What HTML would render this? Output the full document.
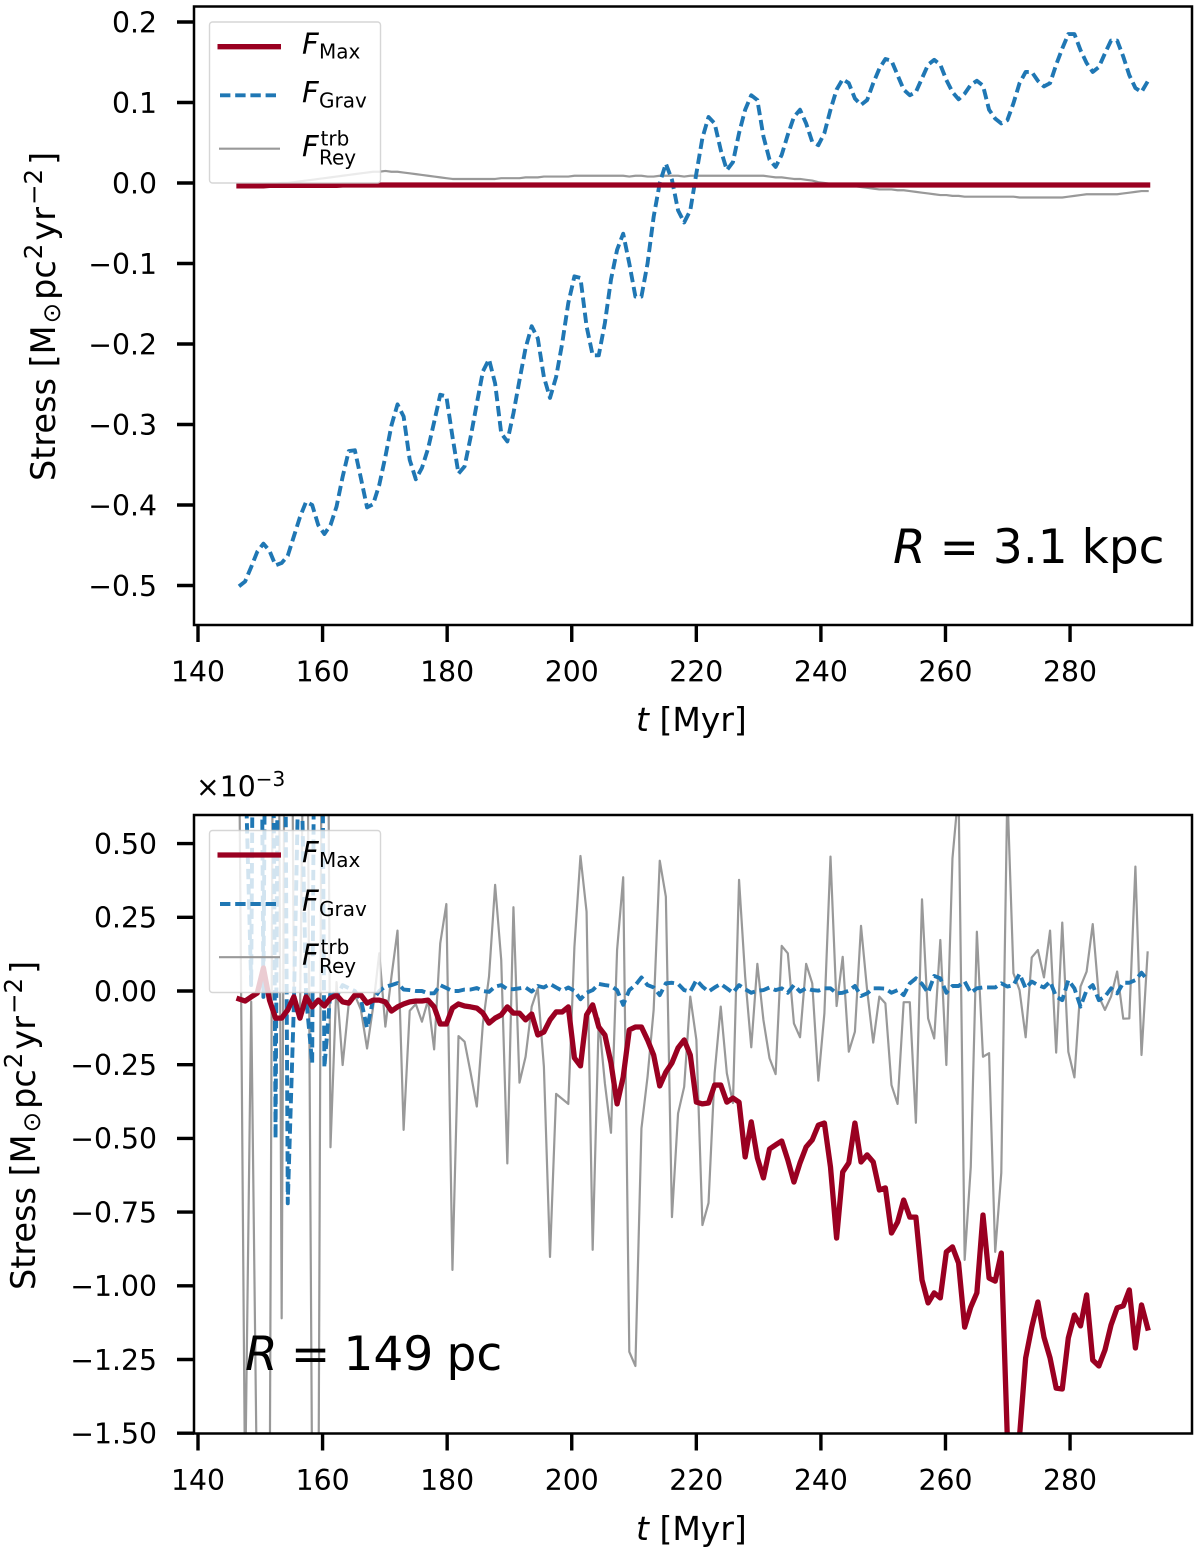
<!DOCTYPE html>
<html lang="en">
<head>
<meta charset="utf-8">
<title>Stress versus time at two radii</title>
<style>
html,body{margin:0;padding:0;background:#fff;width:1200px;height:1554px;overflow:hidden;}
svg{display:block;overflow:hidden;font-family:"DejaVu Sans","Liberation Sans",sans-serif;fill:#000;}
.tick-label{font-size:28.3px;}
.axis-label{font-size:33.5px;}
.x-label{font-size:33px;}
.legend-f{font-size:29px;font-style:italic;}
.legend-sub{font-size:20px;}
.radius{font-size:47px;word-spacing:-1.7px;}
.radius-top{word-spacing:-1px;}
</style>
</head>
<body>
<svg id="figure" xmlns="http://www.w3.org/2000/svg" width="1200" height="1554" viewBox="0 0 1200 1554">
  <defs>
    <clipPath id="clip-top"><rect x="194" y="6.5" width="998" height="618.5"/></clipPath>
    <clipPath id="clip-bottom"><rect x="194" y="815" width="998" height="618.5"/></clipPath>
  </defs>
  <rect x="0" y="0" width="1200" height="1554" fill="#fff"/>

  <g id="top-lines" clip-path="url(#clip-top)"></g>
  <g id="bottom-lines" clip-path="url(#clip-bottom)"></g>

  <g>
    <rect x="209.5" y="22" width="171" height="161" rx="3" fill="#fff" fill-opacity="0.8" stroke="#cccccc" stroke-opacity="0.8" stroke-width="1.4"/>
    <line x1="217.5" x2="281" y1="46.7" y2="46.7" stroke="#9a0021" stroke-width="5.3"/>
    <text x="302" y="54"><tspan class="legend-f">F</tspan><tspan class="legend-sub" x="319" y="58.5">Max</tspan></text>
    <line x1="220" x2="279" y1="95.3" y2="95.3" stroke="#1f77b4" stroke-width="3.9" stroke-dasharray="10.4 4.8"/>
    <text x="302" y="102.7"><tspan class="legend-f">F</tspan><tspan class="legend-sub" x="319" y="107.5">Grav</tspan></text>
    <line x1="219" x2="280" y1="148.7" y2="148.7" stroke="#999999" stroke-width="2.2"/>
    <text x="302" y="156.7"><tspan class="legend-f">F</tspan><tspan class="legend-sub" x="320.5" y="145.7">trb</tspan><tspan class="legend-sub" x="319" y="164.3">Rey</tspan></text>
  </g>

  <g>
    <rect x="209.5" y="830.5" width="171" height="162" rx="3" fill="#fff" fill-opacity="0.8" stroke="#cccccc" stroke-opacity="0.8" stroke-width="1.4"/>
    <line x1="217.5" x2="281" y1="855" y2="855" stroke="#9a0021" stroke-width="5.3"/>
    <text x="302" y="862.5"><tspan class="legend-f">F</tspan><tspan class="legend-sub" x="319" y="867">Max</tspan></text>
    <line x1="220" x2="279" y1="904" y2="904" stroke="#1f77b4" stroke-width="3.9" stroke-dasharray="10.4 4.8"/>
    <text x="302" y="911.2"><tspan class="legend-f">F</tspan><tspan class="legend-sub" x="319" y="916">Grav</tspan></text>
    <line x1="219" x2="280" y1="957.2" y2="957.2" stroke="#999999" stroke-width="2.2"/>
    <text x="302" y="965.2"><tspan class="legend-f">F</tspan><tspan class="legend-sub" x="320.5" y="954.2">trb</tspan><tspan class="legend-sub" x="319" y="972.8">Rey</tspan></text>
  </g>

  <rect x="194" y="6.5" width="998" height="618.5" fill="none" stroke="#000" stroke-width="2.5"/>
  <rect x="194" y="815" width="998" height="618.5" fill="none" stroke="#000" stroke-width="2.5"/>
  <g id="top-axes"></g>
  <g id="bottom-axes"></g>

  <text class="x-label" x="636" y="731"><tspan font-style="italic">t</tspan> [Myr]</text>
  <text class="x-label" x="636" y="1540"><tspan font-style="italic">t</tspan> [Myr]</text>

  <text class="axis-label" transform="translate(55,481) rotate(-90)">Stress [M<tspan font-size="24.5" dx="2" dy="5">⊙</tspan><tspan dx="3" dy="-5">pc</tspan><tspan font-size="24.5" dx="1" dy="-13">2</tspan><tspan dx="3" dy="13">yr</tspan><tspan font-size="24.5" dx="2" dy="-13">−2</tspan><tspan dx="4" dy="13">]</tspan></text>
  <text class="axis-label" transform="translate(35,1290) rotate(-90)">Stress [M<tspan font-size="24.5" dx="2" dy="5">⊙</tspan><tspan dx="3" dy="-5">pc</tspan><tspan font-size="24.5" dx="1" dy="-13">2</tspan><tspan dx="3" dy="13">yr</tspan><tspan font-size="24.5" dx="2" dy="-13">−2</tspan><tspan dx="4" dy="13">]</tspan></text>

  <text class="tick-label" x="196" y="796.5">×10<tspan font-size="20" dy="-10.5">−3</tspan></text>

  <text class="radius radius-top" x="893" y="563"><tspan font-style="italic">R</tspan> = 3.1 kpc</text>
  <text class="radius" x="245" y="1370"><tspan font-style="italic">R</tspan> = 149 pc</text>
</svg>

<script>
const timeMyr = [
146.58,147.56,148.54,149.52,150.50,151.48,152.45,153.43,154.41,155.39,
156.37,157.35,158.33,159.31,160.29,161.27,162.24,163.22,164.20,165.18,
166.16,167.14,168.12,169.10,170.08,171.06,172.03,173.01,173.99,174.97,
175.95,176.93,177.91,178.89,179.87,180.85,181.82,182.80,183.78,184.76,
185.74,186.72,187.70,188.68,189.66,190.64,191.61,192.59,193.57,194.55,
195.53,196.51,197.49,198.47,199.45,200.43,201.40,202.38,203.36,204.34,
205.32,206.30,207.28,208.26,209.24,210.22,211.19,212.17,213.15,214.13,
215.11,216.09,217.07,218.05,219.03,220.01,220.98,221.96,222.94,223.92,
224.90,225.88,226.86,227.84,228.82,229.80,230.77,231.75,232.73,233.71,
234.69,235.67,236.65,237.63,238.61,239.59,240.56,241.54,242.52,243.50,
244.48,245.46,246.44,247.42,248.40,249.38,250.35,251.33,252.31,253.29,
254.27,255.25,256.23,257.21,258.19,259.17,260.14,261.12,262.10,263.08,
264.06,265.04,266.02,267.00,267.98,268.96,269.93,270.91,271.89,272.87,
273.85,274.83,275.81,276.79,277.77,278.75,279.72,280.70,281.68,282.66,
283.64,284.62,285.60,286.58,287.56,288.54,289.51,290.49,291.47,292.45];

const topMax = [
-.0035,-.0035,-.0035,-.0035,-.0035,-.003,-.003,-.003,-.003,-.003,
-.003,-.003,-.003,-.003,-.003,-.003,-.003,-.0025,-.0025,-.0025,
-.0025,-.0025,-.0025,-.0025,-.0025,-.0025,-.0025,-.0025,-.0025,-.0025,
-.0025,-.0025,-.0025,-.0025,-.0025,-.0025,-.0025,-.0025,-.0025,-.0025,
-.0025,-.0025,-.0025,-.0025,-.0025,-.0025,-.0025,-.0025,-.0025,-.0025,
-.0025,-.0025,-.0025,-.0025,-.0025,-.0025,-.0025,-.0025,-.0025,-.0025,
-.0025,-.0025,-.0025,-.0025,-.0025,-.0025,-.0025,-.0025,-.0025,-.0025,
-.0025,-.0025,-.0025,-.0025,-.0025,-.0025,-.0025,-.0025,-.0025,-.0025,
-.0025,-.0025,-.0025,-.0025,-.0025,-.0025,-.0025,-.0025,-.0025,-.0025,
-.0025,-.0025,-.0025,-.0025,-.0025,-.0025,-.0025,-.0025,-.0025,-.0025,
-.0025,-.0025,-.0025,-.0025,-.0025,-.0025,-.0025,-.0025,-.0025,-.0025,
-.0025,-.0025,-.0025,-.0025,-.0025,-.0025,-.0025,-.0025,-.0025,-.0025,
-.0025,-.0025,-.0025,-.0025,-.0025,-.0025,-.0025,-.0025,-.0025,-.0025,
-.0025,-.0025,-.0025,-.0025,-.0025,-.0025,-.0025,-.0025,-.0025,-.0025,
-.0025,-.0025,-.0025,-.0025,-.0025,-.0025,-.0025,-.0025,-.0025,-.0025];

const topGrav = [
-.501,-.495,-.477,-.458,-.448,-.457,-.475,-.472,-.463,-.439,
-.415,-.396,-.400,-.425,-.436,-.425,-.402,-.365,-.333,-.332,
-.367,-.403,-.399,-.375,-.340,-.301,-.275,-.290,-.344,-.368,
-.354,-.330,-.297,-.263,-.265,-.315,-.361,-.352,-.315,-.274,
-.234,-.219,-.249,-.311,-.321,-.286,-.245,-.205,-.178,-.193,
-.241,-.267,-.241,-.199,-.149,-.116,-.118,-.178,-.214,-.214,
-.174,-.120,-.083,-.063,-.100,-.141,-.141,-.100,-.042,0,
.024,.004,-.034,-.049,-.034,.012,.056,.082,.074,.041,
.016,.026,.062,.091,.109,.103,.058,.029,.020,.035,
.060,.082,.091,.074,.051,.047,.062,.091,.116,.129,
.124,.105,.097,.103,.124,.142,.154,.152,.134,.116,
.109,.113,.130,.147,.153,.147,.128,.113,.104,.111,
.122,.127,.121,.091,.080,.074,.078,.099,.124,.138,
.138,.127,.120,.124,.147,.167,.185,.185,.165,.149,
.138,.144,.161,.177,.177,.157,.134,.118,.113,.126];

const topRey = [
-.002,-.002,-.002,-.002,-.001,-.001,-.001,0,0,.001,
.002,.003,.004,.005,.006,.007,.008,.009,.010,.011,
.012,.013,.014,.014,.015,.014,.014,.013,.012,.011,
.010,.009,.008,.007,.006,.005,.005,.005,.005,.005,
.005,.005,.005,.006,.006,.006,.006,.007,.007,.007,
.008,.008,.008,.008,.008,.009,.009,.009,.009,.009,
.009,.009,.009,.009,.008,.009,.009,.008,.008,.009,
.009,.009,.009,.008,.009,.009,.009,.009,.009,.009,
.009,.009,.009,.009,.009,.009,.009,.008,.007,.007,
.006,.005,.005,.004,.003,.001,0,-.001,-.001,-.002,
-.002,-.004,-.005,-.006,-.007,-.008,-.008,-.008,-.009,-.009,
-.010,-.011,-.012,-.013,-.014,-.015,-.015,-.016,-.016,-.017,
-.017,-.017,-.017,-.017,-.017,-.017,-.017,-.017,-.018,-.018,
-.018,-.018,-.018,-.018,-.018,-.018,-.017,-.016,-.015,-.014,
-.014,-.014,-.014,-.014,-.014,-.013,-.012,-.011,-.010,-.010];

const bottomMax = [
-.027,-.034,-.020,-.007,.078,-.031,-.092,-.092,-.064,-.020,
-.092,-.020,-.054,-.031,-.051,-.024,-.014,-.037,-.041,-.014,
-.014,-.041,-.031,-.031,-.037,-.068,-.054,-.044,-.037,-.034,
-.034,-.031,-.054,-.112,-.112,-.058,-.044,-.051,-.054,-.058,
-.075,-.109,-.092,-.081,-.054,-.075,-.075,-.098,-.078,-.149,
-.139,-.098,-.071,-.071,-.054,-.227,-.254,-.081,-.047,-.122,
-.149,-.244,-.383,-.292,-.132,-.122,-.122,-.166,-.217,-.322,
-.275,-.244,-.193,-.166,-.217,-.377,-.383,-.380,-.319,-.319,
-.377,-.363,-.377,-.563,-.444,-.566,-.634,-.536,-.522,-.509,
-.573,-.648,-.583,-.529,-.505,-.455,-.448,-.597,-.838,-.614,
-.583,-.448,-.580,-.556,-.580,-.675,-.668,-.821,-.784,-.709,
-.767,-.767,-.980,-1.058,-1.024,-1.041,-.885,-.868,-.923,-1.140,
-1.072,-1.024,-.760,-.974,-.984,-.889,-1.516,-1.727,-1.510,-1.245,
-1.140,-1.055,-1.174,-1.245,-1.347,-1.350,-1.177,-1.099,-1.136,-1.031,
-1.252,-1.272,-1.218,-1.133,-1.075,-1.068,-1.014,-1.211,-1.065,-1.143];

const bottomGrav = [
1.6,.8,.02,3.3,-.02,3.3,-.5,3.3,-.72,-.05,
1.0,-.02,-.245,3.3,-.26,0,-.02,.02,.01,0,
-.03,-.125,-.03,0,.015,.02,.027,.005,.003,0,
0,-.008,-.008,.02,.01,0,0,.005,.005,.01,
0,-.003,.015,.02,.006,.006,.009,.012,-.002,.017,
.012,.024,.012,.001,.012,0,-.028,-.006,.003,.024,
.02,.017,.003,-.047,.003,.02,.046,.02,.012,-.014,
.026,.028,.024,.003,-.002,.037,.015,-.002,.012,.024,
.009,-.006,.02,.006,-.006,.001,.003,.012,.003,.009,
-.006,.02,-.002,.009,.003,.001,.009,.009,-.008,-.006,
.001,.017,-.017,-.008,.009,.009,.008,-.006,.003,-.014,
.026,.043,.024,-.006,.051,.043,-.006,.017,.017,.032,
-.006,.009,.012,.012,.012,.026,.015,.02,.058,.009,
.032,.02,.012,.032,-.019,-.031,.037,.009,-.053,.003,
.02,-.031,-.019,.009,-.008,.028,.028,.037,.062,.037];

const bottomRey = [
.9,-1.7,-.036,-1.8,-1.9,-1.9,3.3,-1.11,3.3,0,
-.09,1.7,-1.7,-1.9,3.3,-.53,.03,-.251,-.042,-.014,
-.064,-.195,-.053,.128,-.121,.049,.205,-.471,-.067,-.044,
-.104,-.031,-.198,.162,.295,-.946,-.153,-.172,-.279,-.392,
-.11,.049,.36,.105,-.585,.284,-.311,-.223,-.053,.009,
-.257,-.902,-.349,-.366,-.383,.15,.458,.269,-.878,-.093,
-.313,-.481,.139,.386,-1.224,-1.272,-.466,-.291,-.064,.442,
.32,-.767,-.415,-.325,-.019,-.166,-.794,-.719,-.279,-.053,
-.279,-.38,.377,.049,-.191,.092,-.098,-.228,-.282,.153,
.128,-.11,-.157,.092,.026,-.304,-.076,.456,-.051,.116,
-.206,-.138,.221,.003,-.175,-.019,-.042,-.319,-.383,-.038,
-.038,-.447,.311,-.093,-.161,.173,-.251,.45,.68,-.912,
-.597,.201,-.223,-.211,-.885,-.617,.68,.06,.003,-.157,
.114,.139,.046,.205,-.209,.232,-.206,-.293,.015,.066,
.227,-.019,-.064,-.019,.066,-.094,-.093,.422,-.217,.131];

const xTickValues = [140,160,180,200,220,240,260,280];
const xTickLabels = ["140","160","180","200","220","240","260","280"];
const topYTickValues = [0.2,0.1,0,-0.1,-0.2,-0.3,-0.4,-0.5];
const topYTickLabels = ["0.2","0.1","0.0","−0.1","−0.2","−0.3","−0.4","−0.5"];
const bottomYTickValues = [0.5,0.25,0,-0.25,-0.5,-0.75,-1,-1.25,-1.5];
const bottomYTickLabels = ["0.50","0.25","0.00","−0.25","−0.50","−0.75","−1.00","−1.25","−1.50"];

const NS = "http://www.w3.org/2000/svg";
function xScale(t){ return 198 + 6.229 * (t - 140); }
function yTop(v){ return 183 - 805 * v; }
function yBottom(v){ return 991 - 294.8 * v; }

function drawSeries(parent, name, values, yScale, color, width, dash, cap){
  const line = document.createElementNS(NS, "polyline");
  
  
  line.setAttribute("points", values.map(function(v, i){
    return xScale(timeMyr[i]).toFixed(2) + "," + yScale(v).toFixed(2);
  }).join(" "));
  line.setAttribute("fill", "none");
  line.setAttribute("stroke", color);
  line.setAttribute("stroke-width", width);
  line.setAttribute("stroke-linejoin", "round");
  line.setAttribute("stroke-linecap", cap);
  if (dash) line.setAttribute("stroke-dasharray", dash);
  parent.appendChild(line);
}

function drawXTicks(parent, axisY){
  xTickValues.forEach(function(value, i){
    const x = xScale(value);
    const tick = document.createElementNS(NS, "line");
    
    
    tick.setAttribute("x1", x); tick.setAttribute("x2", x);
    tick.setAttribute("y1", axisY); tick.setAttribute("y2", axisY + 17);
    tick.setAttribute("stroke", "#000"); tick.setAttribute("stroke-width", "3.4");
    parent.appendChild(tick);
    const label = document.createElementNS(NS, "text");
    
    
    label.setAttribute("class", "tick-label");
    label.setAttribute("x", x); label.setAttribute("y", axisY + 56.5);
    label.setAttribute("text-anchor", "middle");
    label.textContent = xTickLabels[i];
    parent.appendChild(label);
  });
}

function drawYTicks(parent, values, labels, yScale){
  values.forEach(function(value, i){
    const y = yScale(value);
    const tick = document.createElementNS(NS, "line");
    
    
    tick.setAttribute("x1", 177); tick.setAttribute("x2", 194);
    tick.setAttribute("y1", y); tick.setAttribute("y2", y);
    tick.setAttribute("stroke", "#000"); tick.setAttribute("stroke-width", "3.4");
    parent.appendChild(tick);
    const label = document.createElementNS(NS, "text");
    
    
    label.setAttribute("class", "tick-label");
    label.setAttribute("x", 157); label.setAttribute("y", y + 10.3);
    label.setAttribute("text-anchor", "end");
    label.textContent = labels[i];
    parent.appendChild(label);
  });
}

const topLines = document.getElementById("top-lines");
const bottomLines = document.getElementById("bottom-lines");
drawSeries(topLines, "top-f-rey-line", topRey, yTop, "#999999", 2.2, null, "square");
drawSeries(topLines, "top-f-grav-line", topGrav, yTop, "#1f77b4", 3.9, "10.4 4.8", "butt");
drawSeries(topLines, "top-f-max-line", topMax, yTop, "#9a0021", 5.3, null, "square");
drawSeries(bottomLines, "bottom-f-rey-line", bottomRey, yBottom, "#999999", 2.2, null, "square");
drawSeries(bottomLines, "bottom-f-grav-line", bottomGrav, yBottom, "#1f77b4", 3.9, "10.4 4.8", "butt");
drawSeries(bottomLines, "bottom-f-max-line", bottomMax, yBottom, "#9a0021", 5.3, null, "square");

const topAxes = document.getElementById("top-axes");
const bottomAxes = document.getElementById("bottom-axes");
drawXTicks(topAxes, 625);
drawXTicks(bottomAxes, 1433.5);
drawYTicks(topAxes, topYTickValues, topYTickLabels, yTop);
drawYTicks(bottomAxes, bottomYTickValues, bottomYTickLabels, yBottom);
</script>
</body>
</html>
